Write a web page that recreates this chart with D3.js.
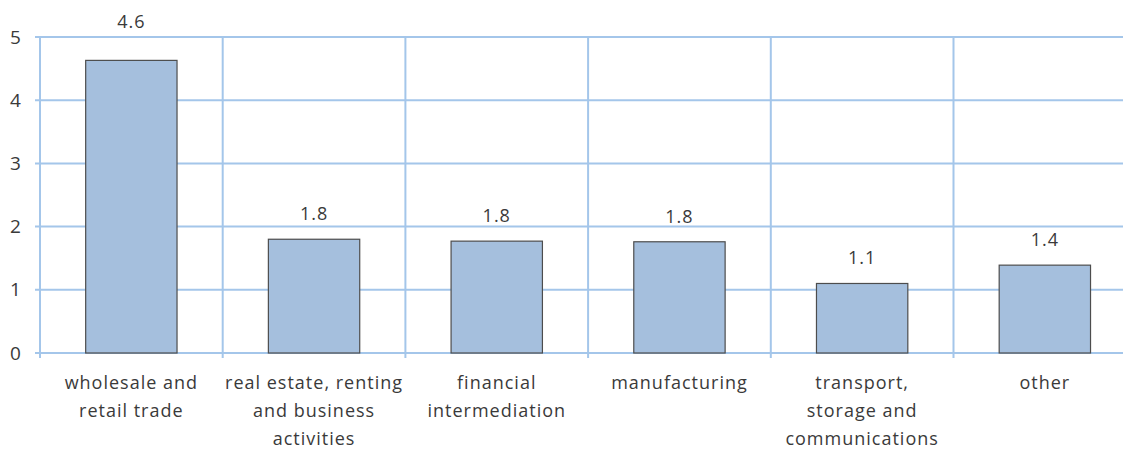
<!DOCTYPE html>
<html>
<head>
<meta charset="utf-8">
<script src="https://cdn.jsdelivr.net/npm/d3@7"></script>
<style>
  body { margin: 0; background: #fff; }
  svg text { font-family: "Open Sans", sans-serif; fill: #3a3a3a; letter-spacing: 1px; }
</style>
</head>
<body>
<svg id="chart" width="1123" height="450"></svg>
<script>
var categories = [
  ['wholesale and', 'retail trade'],
  ['real estate, renting', 'and business', 'activities'],
  ['financial', 'intermediation'],
  ['manufacturing'],
  ['transport,', 'storage and', 'communications'],
  ['other']
];
var values = [4.63, 1.80, 1.77, 1.76, 1.10, 1.39];
var yTicks = [0, 1, 2, 3, 4, 5];

(function() {
  var svg = d3.select('#chart');
  var plotLeft = 40, plotTop = 37, plotBottom = 353;
  var step = 182.7;

  var x = d3.scaleBand()
    .domain(d3.range(categories.length))
    .range([plotLeft, plotLeft + step * categories.length])
    .paddingInner(0.5)
    .paddingOuter(0.25);

  var y = d3.scaleLinear().domain([0, 5]).range([plotBottom, plotTop]);

  var gridColor = '#a4c6ea';

  // horizontal grid + left ticks
  svg.append('g').selectAll('line')
    .data(yTicks)
    .enter().append('line')
    .attr('x1', plotLeft - 5)
    .attr('x2', 1123)
    .attr('y1', function(d) { return y(d); })
    .attr('y2', function(d) { return y(d); })
    .attr('stroke', gridColor)
    .attr('stroke-width', 2);

  // vertical grid lines at category boundaries
  var bounds = d3.range(categories.length + 1).map(function(i) { return plotLeft + step * i; });
  svg.append('g').selectAll('line')
    .data(bounds)
    .enter().append('line')
    .attr('x1', function(d) { return d; })
    .attr('x2', function(d) { return d; })
    .attr('y1', plotTop)
    .attr('y2', plotBottom + 5)
    .attr('stroke', gridColor)
    .attr('stroke-width', 2);

  // y tick labels
  svg.append('g').selectAll('text')
    .data(yTicks)
    .enter().append('text')
    .attr('x', 16)
    .attr('y', function(d) { return y(d); })
    .attr('dy', '0.35em')
    .attr('text-anchor', 'middle')
    .attr('font-size', 19)
    .text(function(d) { return d; });

  // bars
  svg.append('g').selectAll('rect')
    .data(values)
    .enter().append('rect')
    .attr('x', function(d, i) { return x(i); })
    .attr('y', function(d) { return y(d); })
    .attr('width', x.bandwidth())
    .attr('height', function(d) { return y(0) - y(d); })
    .attr('fill', '#a5bfdd')
    .attr('stroke', '#4d4d4d')
    .attr('stroke-width', 1.2);

  // value labels, pushed above the top gridline when they would touch it
  svg.append('g').selectAll('text')
    .data(values)
    .enter().append('text')
    .attr('x', function(d, i) { return x(i) + x.bandwidth() / 2; })
    .attr('y', function(d) {
      var ly = y(d) - 19;
      return (ly - 14 < plotTop + 4) ? plotTop - 9 : ly;
    })
    .attr('text-anchor', 'middle')
    .attr('font-size', 18)
    .text(function(d) { return d.toFixed(1); });

  // category labels
  var catG = svg.append('g').selectAll('text')
    .data(categories)
    .enter().append('text')
    .attr('text-anchor', 'middle')
    .attr('font-size', 18);

  catG.selectAll('tspan')
    .data(function(d, i) { return d.map(function(s) { return { s: s, i: i }; }); })
    .enter().append('tspan')
    .attr('x', function(d) { return x(d.i) + x.bandwidth() / 2; })
    .attr('y', function(d, j) { return 389 + j * 28; })
    .text(function(d) { return d.s; });
})();
</script>
</body>
</html>
